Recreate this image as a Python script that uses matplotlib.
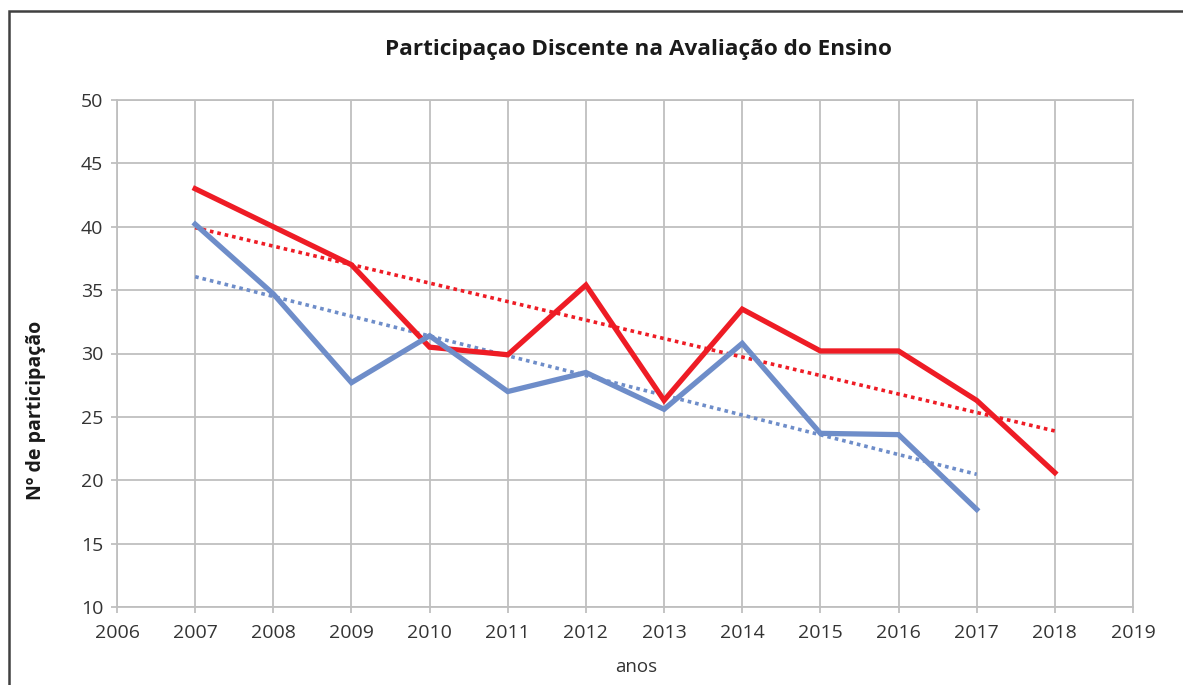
import numpy as np
import matplotlib
matplotlib.use("Agg")
import matplotlib.pyplot as plt
from matplotlib.patches import Rectangle

plt.rcParams['font.family'] = ['Open Sans', 'DejaVu Sans']

# dados
anos_vermelho = [2007, 2008, 2009, 2010, 2011, 2012, 2013, 2014, 2015, 2016, 2017, 2018]
part_vermelho = [43.0, 40.0, 37.0, 30.5, 29.9, 35.4, 26.3, 33.5, 30.2, 30.2, 26.3, 20.6]
anos_azul = [2007, 2008, 2009, 2010, 2011, 2012, 2013, 2014, 2015, 2016, 2017]
part_azul = [40.2, 34.7, 27.7, 31.4, 27.0, 28.5, 25.6, 30.8, 23.7, 23.6, 17.7]
x_ticks = list(range(2006, 2020))
y_ticks = list(range(10, 51, 5))

RED = "#EE1C25"
BLUE = "#6E8DC9"
GRID = "#BFBFBF"

fig = plt.figure(figsize=(11.83, 6.85), dpi=100)
ax = fig.add_axes([117 / 1183, 1 - 607 / 685, (1133 - 117) / 1183, (607 - 100) / 685])

# moldura da figura
fig.patches.append(Rectangle((9 / 1183, -0.05), 1.2, 1 - 11 / 685 + 0.05,
                             transform=fig.transFigure, fill=False,
                             edgecolor="#404040", linewidth=1.8))

# linhas de tendência (regressão linear)
for anos, vals, cor in [(anos_vermelho, part_vermelho, RED), (anos_azul, part_azul, BLUE)]:
    a, b = np.polyfit(anos, vals, 1)
    xs = np.array([anos[0], anos[-1]])
    ax.plot(xs, a * xs + b, color=cor, linewidth=2.6, linestyle=(0, (1, 1.1)), zorder=3)

ax.plot(anos_vermelho, part_vermelho, color=RED, linewidth=3.8, zorder=4, solid_joinstyle="miter")
ax.plot(anos_azul, part_azul, color=BLUE, linewidth=3.8, zorder=4, solid_joinstyle="miter")

ax.set_xlim(2006, 2019)
ax.set_ylim(10, 50)
ax.set_xticks(x_ticks)
ax.set_yticks(y_ticks)
ax.grid(True, color=GRID, linewidth=1.3)
ax.set_axisbelow(True)
for s in ax.spines.values():
    s.set_color(GRID)
    s.set_linewidth(1.3)
ax.tick_params(axis="both", colors=GRID, length=4, width=1.3, labelcolor="#333333",
               labelsize=14)
ax.tick_params(axis="y", pad=6)
ax.tick_params(axis="x", pad=8)

fig.text(638 / 1183, 1 - 50 / 685, "Participaçao Discente na Avaliação do Ensino",
         ha="center", va="center", fontsize=16.2, fontweight="bold", color="#1a1a1a")
fig.text(36 / 1183, 1 - 410 / 685, "Nº de participação", rotation=90,
         ha="center", va="center", fontsize=14, fontweight="bold", color="#1a1a1a")
fig.text(636 / 1183, 1 - 667 / 685, "anos", ha="center", va="center",
         fontsize=13.5, color="#333333")

fig.savefig("out.png", dpi=100)
